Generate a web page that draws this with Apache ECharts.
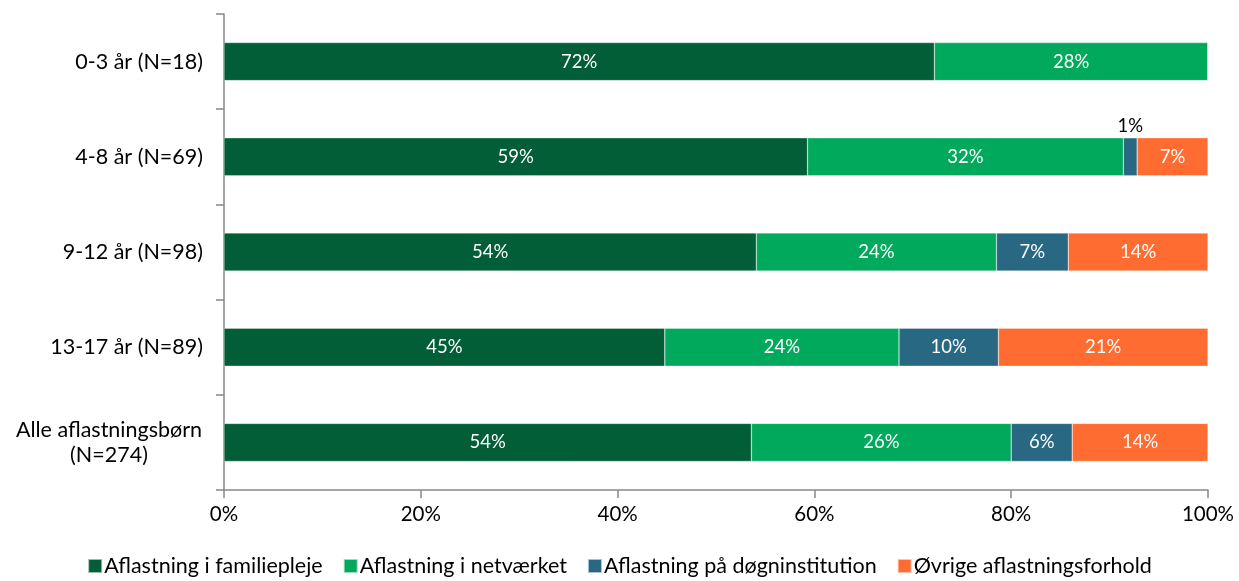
<!DOCTYPE html>
<html><head><meta charset="utf-8">
<script src="https://cdn.jsdelivr.net/npm/echarts@6/dist/echarts.min.js"></script>
<style>html,body{margin:0;padding:0;background:#fff}#c{width:1239px;height:581px}</style>
</head><body><div id="c"></div>
<script>
const categories = ["0-3 år (N=18)", "4-8 år (N=69)", "9-12 år (N=98)", "13-17 år (N=89)", "Alle aflastningsbørn\n(N=274)"];
const seriesNames = ["Aflastning i familiepleje", "Aflastning i netværket", "Aflastning på døgninstitution", "Øvrige aflastningsforhold"];
const familiepleje = [72.2, 59.3, 54.1, 44.8, 53.6];
const netvaerket = [27.8, 32.1, 24.4, 23.8, 26.4];
const doegninstitution = [0, 1.4, 7.3, 10.1, 6.2];
const oevrige = [0, 7.2, 14.2, 21.3, 13.8];
const xTicks = [0, 20, 40, 60, 80, 100];
const colors = ["#025E36", "#00A95C", "#286883", "#FF6C31"];

const FONT = "Lato";
const allValues = [familiepleje, netvaerket, doegninstitution, oevrige];
const chart = echarts.init(document.getElementById('c'));
chart.setOption({
  animation: false,
  textStyle: { fontFamily: FONT },
  grid: { left: 224, right: 31, top: 14, bottom: 91, containLabel: false },
  legend: {
    bottom: -1, left: 'center', itemWidth: 14, itemHeight: 14, itemGap: 20,
    icon: 'rect',
    textStyle: { fontSize: 21.5, color: '#000', fontFamily: FONT, padding: [0, 0, 0, -3] },
    data: seriesNames
  },
  xAxis: {
    type: 'value', min: 0, max: 100, interval: 20,
    axisLine: { show: true, lineStyle: { color: '#888', width: 1.5 } },
    axisTick: { show: true, length: 8, lineStyle: { color: '#888', width: 1.5 } },
    splitLine: { show: false },
    axisLabel: { fontSize: 20.5, color: '#000', margin: 14, formatter: v => xTicks.includes(v) ? v + '%' : '' }
  },
  yAxis: {
    type: 'category', data: categories, inverse: true,
    axisLine: { show: true, lineStyle: { color: '#888', width: 1.5 } },
    axisTick: { show: true, length: 8, lineStyle: { color: '#888', width: 1.5 } },
    axisLabel: {
      fontSize: 21.5, color: '#000', margin: 21, lineHeight: 25, align: 'right',
      formatter: v => v.includes('\n') ? v.split('\n').map(s => '{c|' + s + '}').join('\n') : v,
      rich: { c: { fontSize: 21.5, lineHeight: 25, color: '#000', fontFamily: FONT, width: 188, align: 'center' } }
    }
  },
  series: seriesNames.map((name, si) => ({
    name, type: 'bar', stack: 'total', barWidth: 38,
    itemStyle: { color: colors[si], borderColor: 'rgba(255,255,255,0.6)', borderWidth: 0.5 },
    label: {
      show: true, position: 'inside', color: '#fff', fontSize: 18.5,
      formatter: p => p.value > 0 ? Math.round(p.value) + '%' : ''
    },
    data: allValues[si].map(v => v > 0 && v < 3
      ? { value: v, label: { position: 'top', color: '#000', fontSize: 18.5, distance: 2 } }
      : v)
  }))
});
</script></body></html>
